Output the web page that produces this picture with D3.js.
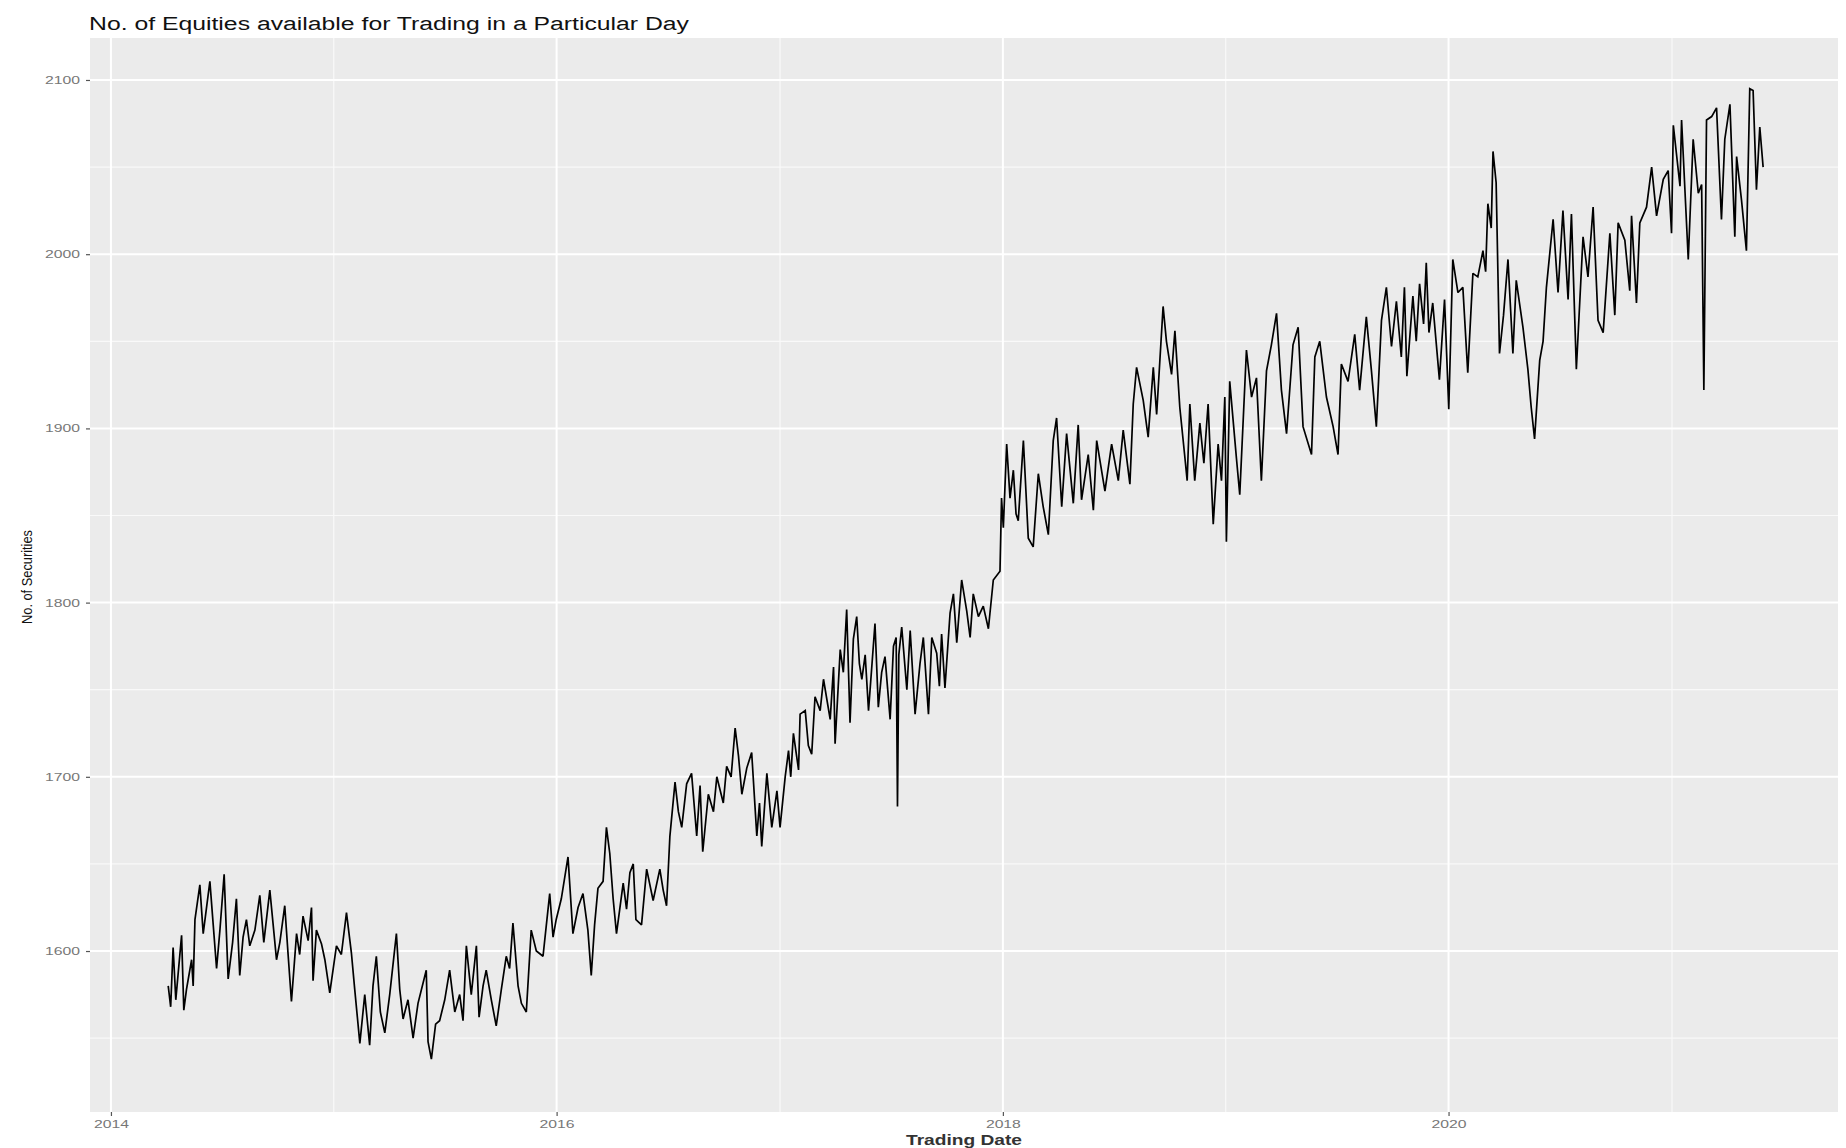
<!DOCTYPE html>
<html>
<head>
<meta charset="utf-8">
<script src="https://cdn.jsdelivr.net/npm/d3@7/dist/d3.min.js"></script>
<style>
  html, body { margin: 0; padding: 0; background: #ffffff; }
  svg { display: block; }
</style>
</head>
<body>
<svg id="chart" width="1846" height="1148"></svg>
<script>
// ---- Data (x as decimal year, y as number of securities) ----
const years = [
2014.257,2014.268,2014.279,2014.291,2014.317,2014.327,2014.339,2014.362,2014.369,2014.377,
2014.399,2014.414,2014.444,2014.459,2014.474,2014.489,2014.508,2014.526,2014.546,2014.563,
2014.578,2014.593,2014.608,2014.623,2014.646,2014.668,2014.686,2014.713,2014.728,2014.743,
2014.758,2014.780,2014.795,2014.810,2014.833,2014.847,2014.862,2014.885,2014.900,2014.907,
2014.922,2014.945,2014.960,2014.982,2015.012,2015.034,2015.057,2015.079,2015.094,2015.117,
2015.139,2015.161,2015.176,2015.191,2015.209,2015.229,2015.251,2015.281,2015.296,2015.311,
2015.333,2015.356,2015.378,2015.415,2015.423,2015.438,2015.457,2015.475,2015.498,2015.520,
2015.543,2015.565,2015.580,2015.595,2015.617,2015.640,2015.652,2015.670,2015.684,2015.707,
2015.729,2015.752,2015.774,2015.789,2015.804,2015.827,2015.842,2015.864,2015.886,2015.909,
2015.939,2015.954,2015.969,2015.984,2015.998,2016.021,2016.051,2016.073,2016.096,2016.118,
2016.140,2016.155,2016.170,2016.185,2016.208,2016.223,2016.238,2016.253,2016.268,
2016.298,2016.313,2016.328,2016.343,2016.355,2016.380,2016.403,2016.432,2016.462,2016.477,
2016.492,2016.507,2016.530,2016.545,2016.560,2016.582,2016.604,2016.627,2016.642,2016.654,
2016.679,2016.702,2016.717,2016.746,2016.761,2016.781,2016.799,2016.814,2016.829,2016.851,
2016.873,2016.896,2016.908,2016.918,2016.941,2016.963,2016.986,2017.000,2017.023,2017.038,
2017.048,2017.060,2017.083,2017.090,2017.113,2017.127,2017.142,2017.157,2017.180,2017.195,
2017.225,2017.240,2017.247,2017.270,2017.284,2017.299,2017.314,2017.329,2017.344,2017.356,
2017.367,2017.382,2017.397,2017.411,2017.426,2017.441,2017.456,2017.471,2017.494,2017.509,
2017.521,2017.527,2017.533,2017.546,2017.569,2017.584,2017.606,2017.628,2017.643,2017.666,
2017.681,2017.703,2017.715,2017.725,2017.740,2017.763,2017.778,2017.793,2017.815,2017.838,
2017.853,2017.867,2017.890,2017.912,2017.935,2017.957,
2017.987,2017.994,2018.002,2018.017,2018.032,2018.047,2018.059,2018.069,2018.092,2018.114,
2018.136,2018.159,2018.181,2018.204,2018.226,2018.241,2018.264,2018.286,2018.316,2018.338,
2018.353,2018.383,2018.406,2018.421,2018.458,2018.488,2018.518,2018.540,2018.570,2018.585,
2018.600,2018.630,2018.652,2018.675,2018.690,2018.719,2018.734,2018.757,2018.772,2018.794,
2018.817,2018.827,2018.839,2018.861,2018.884,2018.902,2018.921,2018.944,2018.966,2018.981,
2018.996,2019.003,2019.018,2019.048,2019.063,2019.093,2019.116,2019.138,2019.160,2019.183,
2019.205,2019.228,2019.250,2019.273,2019.302,2019.325,2019.347,2019.385,2019.400,2019.422,
2019.452,2019.482,2019.504,2019.519,2019.549,2019.579,2019.601,2019.631,2019.654,2019.676,
2019.699,2019.721,2019.744,2019.766,2019.788,
2019.802,2019.813,2019.840,2019.855,2019.870,2019.888,2019.900,2019.912,2019.929,2019.959,
2019.982,2020.001,2020.019,2020.042,2020.064,2020.086,2020.109,2020.131,2020.154,2020.166,
2020.176,2020.191,2020.199,2020.213,2020.228,2020.246,2020.266,2020.288,2020.303,2020.333,
2020.355,2020.370,2020.385,2020.408,2020.423,2020.438,2020.468,2020.490,2020.512,2020.535,
2020.550,2020.572,2020.602,2020.624,2020.647,2020.669,2020.692,2020.722,2020.744,2020.759,
2020.789,2020.811,2020.819,2020.841,2020.856,2020.886,2020.909,2020.931,2020.961,2020.983,
2020.998,2021.006,2021.036,2021.043,2021.073,2021.095,2021.118,2021.133,2021.143,2021.155,
2021.178,2021.200,2021.222,2021.237,2021.260,2021.282,2021.290,2021.312,2021.334,2021.349,
2021.364,2021.379,2021.394,2021.409
];
const securities = [
1580,1568,1602,1572,1609,1566,1578,1595,1580,1618,
1638,1610,1640,1615,1590,1612,1644,1584,1605,1630,
1586,1608,1618,1603,1612,1632,1605,1635,1615,1595,
1605,1626,1598,1571,1610,1598,1620,1606,1625,1583,
1612,1604,1595,1576,1603,1598,1622,1599,1578,1547,
1575,1546,1580,1597,1565,1553,1575,1610,1578,1561,
1572,1550,1570,1589,1548,1538,1558,1560,1572,1589,
1565,1575,1560,1603,1575,1603,1562,1580,1589,1572,
1557,1578,1597,1590,1616,1580,1570,1565,1612,1600,
1597,1615,1633,1608,1618,1630,1654,1610,1625,1633,
1612,1586,1615,1636,1640,1671,1656,1630,1610,
1639,1624,1645,1650,1618,1615,1647,1629,1647,1635,
1626,1666,1697,1680,1671,1696,1702,1666,1695,1657,
1690,1680,1700,1685,1706,1700,1728,1712,1690,1705,
1714,1666,1685,1660,1702,1671,1692,1671,1700,1715,
1700,1725,1704,1736,1738,1718,1713,1746,1738,1756,
1733,1763,1719,1773,1760,1796,1731,1779,1792,1765,
1756,1770,1738,1762,1788,1740,1760,1769,1733,1775,
1780,1683,1770,1786,1750,1784,1736,1765,1780,1736,
1780,1771,1752,1782,1751,1794,1805,1777,1813,1795,
1780,1805,1792,1798,1785,1813,
1818,1860,1843,1891,1860,1876,1851,1847,1893,1837,
1832,1874,1855,1839,1893,1906,1855,1897,1857,1902,
1859,1885,1853,1893,1864,1891,1870,1899,1868,1914,
1935,1916,1895,1935,1908,1970,1950,1931,1956,1912,
1883,1870,1914,1870,1903,1880,1914,1845,1891,1870,
1918,1835,1927,1883,1862,1945,1918,1929,1870,1933,
1948,1966,1922,1897,1948,1958,1901,1885,1941,1950,
1918,1901,1885,1937,1927,1954,1922,1964,1933,1901,
1962,1981,1947,1973,1941,
1981,1930,1976,1950,1983,1960,1995,1955,1972,1928,
1974,1911,1997,1978,1981,1932,1989,1987,2002,1990,
2029,2015,2059,2041,1943,1965,1997,1943,1985,1958,
1934,1912,1894,1939,1950,1981,2020,1978,2025,1974,
2023,1934,2010,1987,2027,1962,1955,2012,1965,2018,
2008,1979,2022,1972,2018,2027,2050,2022,2043,2048,
2012,2074,2039,2077,1997,2066,2035,2040,1922,2077,
2079,2084,2020,2066,2086,2010,2056,2031,2002,2095,
2094,2037,2073,2050
];
const yTicks = [1600, 1700, 1800, 1900, 2000, 2100];
const yMinorTicks = [1550, 1650, 1750, 1850, 1950, 2050];
const xTickYears = [2014, 2016, 2018, 2020];
const xMinorYears = [2015, 2017, 2019, 2021];
const titleText = "No. of Equities available for Trading in a Particular Day";
const xTitle = "Trading Date";
const yTitle = "No. of Securities";

// decimal year -> Date
function yearToDate(yr) {
  const y = Math.floor(yr);
  const s = Date.UTC(y, 0, 1), e = Date.UTC(y + 1, 0, 1);
  return new Date(s + (yr - y) * (e - s));
}

const data = years.map((yr, i) => ({ date: yearToDate(yr), value: securities[i] }));

// ---- Layout ----
const panel = { left: 90, right: 1838, top: 38, bottom: 1112 };
const svg = d3.select("#chart");

const x = d3.scaleUtc()
  .domain([yearToDate(2013.906), yearToDate(2021.745)])
  .range([panel.left, panel.right]);
const y = d3.scaleLinear()
  .domain([1507.6, 2124.1])
  .range([panel.bottom, panel.top]);

// panel background
svg.append("rect")
  .attr("x", panel.left).attr("y", panel.top)
  .attr("width", panel.right - panel.left)
  .attr("height", panel.bottom - panel.top)
  .attr("fill", "#EBEBEB");

const grid = svg.append("g");
// minor grid
grid.selectAll("line.ymin").data(yMinorTicks).enter().append("line")
  .attr("x1", panel.left).attr("x2", panel.right)
  .attr("y1", d => y(d)).attr("y2", d => y(d))
  .attr("stroke", "#F9F9F9").attr("stroke-width", 1.2);
grid.selectAll("line.xmin").data(xMinorYears).enter().append("line")
  .attr("y1", panel.top).attr("y2", panel.bottom)
  .attr("x1", d => x(yearToDate(d))).attr("x2", d => x(yearToDate(d)))
  .attr("stroke", "#F9F9F9").attr("stroke-width", 1.2);
// major grid
grid.selectAll("line.ymaj").data(yTicks).enter().append("line")
  .attr("x1", panel.left).attr("x2", panel.right)
  .attr("y1", d => y(d)).attr("y2", d => y(d))
  .attr("stroke", "#FFFFFF").attr("stroke-width", 2);
grid.selectAll("line.xmaj").data(xTickYears).enter().append("line")
  .attr("y1", panel.top).attr("y2", panel.bottom)
  .attr("x1", d => x(yearToDate(d))).attr("x2", d => x(yearToDate(d)))
  .attr("stroke", "#FFFFFF").attr("stroke-width", 2);

// line
const line = d3.line()
  .x(d => x(d.date))
  .y(d => y(d.value));
svg.append("path")
  .datum(data)
  .attr("d", line)
  .attr("fill", "none")
  .attr("stroke", "#000000")
  .attr("stroke-width", 1.7)
  .attr("stroke-linejoin", "miter")
  .attr("stroke-miterlimit", 2);

const tickFont = "Liberation Sans, Arial, sans-serif";

// axes
const yAxis = d3.axisLeft(y).tickValues(yTicks).tickSize(4).tickPadding(6).tickFormat(d3.format("d"));
const gy = svg.append("g").attr("transform", `translate(${panel.left},0)`).call(yAxis);
gy.select(".domain").remove();
gy.selectAll(".tick line").attr("stroke", "#555").attr("stroke-width", 1.2);
gy.selectAll(".tick text").attr("fill", "#777").attr("font-family", tickFont).attr("font-size", 11)
  .attr("textLength", 35).attr("lengthAdjust", "spacingAndGlyphs");

const xAxis = d3.axisBottom(x).tickValues(xTickYears.map(yearToDate)).tickSize(4).tickPadding(4)
  .tickFormat(d => d3.utcFormat("%Y")(d));
const gx = svg.append("g").attr("transform", `translate(0,${panel.bottom})`).call(xAxis);
gx.select(".domain").remove();
gx.selectAll(".tick line").attr("stroke", "#555").attr("stroke-width", 1.2);
gx.selectAll(".tick text").attr("fill", "#777").attr("font-family", tickFont).attr("font-size", 11)
  .attr("textLength", 35).attr("lengthAdjust", "spacingAndGlyphs");

// titles
svg.append("text")
  .attr("x", 89).attr("y", 30)
  .attr("font-family", tickFont)
  .attr("font-size", 18)
  .attr("fill", "#111")
  .attr("textLength", 600)
  .attr("lengthAdjust", "spacingAndGlyphs")
  .text(titleText);

svg.append("text")
  .attr("x", (panel.left + panel.right) / 2).attr("y", 1145)
  .attr("text-anchor", "middle")
  .attr("font-family", tickFont)
  .attr("font-size", 14)
  .attr("font-weight", "bold")
  .attr("fill", "#333")
  .attr("textLength", 116)
  .attr("lengthAdjust", "spacingAndGlyphs")
  .text(xTitle);

svg.append("text")
  .attr("transform", `translate(32,${(panel.top + panel.bottom) / 2 + 2}) rotate(-90)`)
  .attr("text-anchor", "middle")
  .attr("font-family", "Liberation Sans Narrow, Liberation Sans, Arial, sans-serif")
  .attr("font-size", 15)
  .attr("fill", "#111")
  .attr("textLength", 94)
  .attr("lengthAdjust", "spacingAndGlyphs")
  .text(yTitle);
</script>
</body>
</html>
